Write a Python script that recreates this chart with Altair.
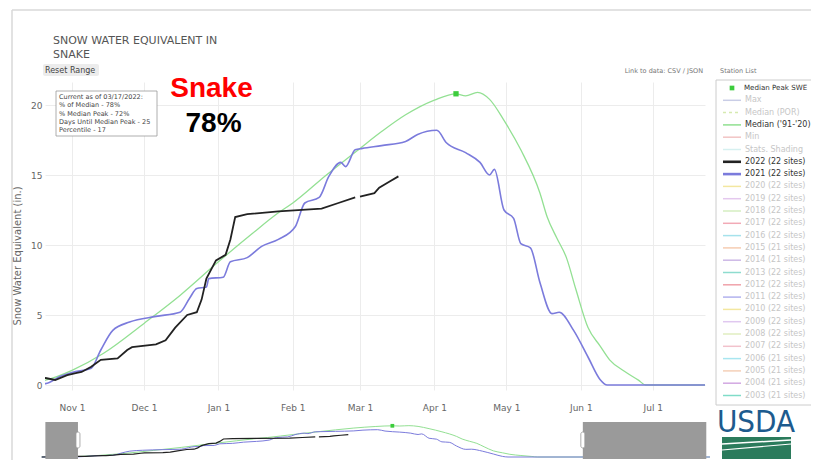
import altair as alt
import pandas as pd

FONT = "DejaVu Sans"
ARIAL = "Liberation Sans, Arial, sans-serif"

# ---------------- data ----------------
# Median ('91-'20), all dates shown on the 2021-22 water-year axis
median_dates = ["2021-10-01", "2021-10-10", "2021-10-21", "2021-11-01", "2021-11-14",
                "2021-12-01", "2021-12-16", "2022-01-01", "2022-01-15", "2022-01-26",
                "2022-02-01", "2022-02-15", "2022-03-01", "2022-03-10", "2022-03-20",
                "2022-04-01", "2022-04-10", "2022-04-14", "2022-04-19", "2022-04-24",
                "2022-04-30", "2022-05-07", "2022-05-15", "2022-05-18", "2022-05-22",
                "2022-05-26", "2022-05-30", "2022-06-04", "2022-06-09", "2022-06-13",
                "2022-06-19", "2022-06-25", "2022-06-28", "2022-09-30"]
median_swe = [0.0, 0.1, 0.35, 1.05, 2.25,
              4.4, 6.4, 8.8, 10.8, 12.3,
              13.0, 15.0, 16.9, 18.1, 19.3,
              20.35, 20.8, 20.65, 20.9, 20.4,
              18.9, 16.8, 13.7, 12.0, 10.5,
              9.1, 6.8, 4.1, 2.8, 1.8,
              1.0, 0.35, 0.0, 0.0]

# 2021 (22 sites), aligned to the same water-year axis
wy2021_dates = ["2021-10-01", "2021-10-15", "2021-10-21", "2021-10-27", "2021-11-01",
                "2021-11-09", "2021-11-13", "2021-11-18", "2021-11-25", "2021-12-06",
                "2021-12-16", "2021-12-20", "2021-12-23", "2021-12-27", "2021-12-28",
                "2022-01-03", "2022-01-06", "2022-01-13", "2022-01-19", "2022-01-26",
                "2022-02-02", "2022-02-06", "2022-02-12", "2022-02-16", "2022-02-21",
                "2022-02-23", "2022-02-27", "2022-03-02", "2022-03-10", "2022-03-20",
                "2022-03-25", "2022-04-02", "2022-04-06", "2022-04-14", "2022-04-20",
                "2022-04-24", "2022-04-26", "2022-04-30", "2022-05-04", "2022-05-07",
                "2022-05-11", "2022-05-15", "2022-05-20", "2022-05-23", "2022-05-29",
                "2022-06-04", "2022-06-09", "2022-06-12", "2022-09-30"]
wy2021_swe = [0.0, 0.05, 0.1, 0.6, 0.9,
              1.2, 2.5, 3.9, 4.5, 4.9,
              5.2, 6.2, 6.9, 7.0, 7.6,
              7.7, 8.8, 9.1, 9.9, 10.4,
              11.3, 13.0, 13.4, 14.9, 15.9,
              15.6, 16.8, 16.9, 17.1, 17.4,
              17.9, 18.2, 17.3, 16.6, 15.9,
              15.0, 15.4, 12.5, 11.9, 10.1,
              9.8, 7.3, 5.1, 5.2, 3.9,
              2.0, 0.4, 0.0, 0.0]

# 2022 (22 sites); segment number marks the small gap near Mar 1
wy2022_dates = ["2021-10-01", "2021-10-15", "2021-10-21", "2021-10-25", "2021-10-30",
                "2021-11-03", "2021-11-05", "2021-11-09", "2021-11-13", "2021-11-20",
                "2021-11-24", "2021-11-26", "2021-12-06", "2021-12-10", "2021-12-14",
                "2021-12-19", "2021-12-23", "2021-12-25", "2021-12-27", "2021-12-31",
                "2022-01-04", "2022-01-06", "2022-01-08", "2022-01-13", "2022-01-26",
                "2022-02-13", "2022-02-20", "2022-02-27",
                "2022-03-01", "2022-03-07", "2022-03-09", "2022-03-13", "2022-03-17"]
wy2022_swe = [0.0, 0.2, 0.5, 0.36, 0.7,
              0.86, 0.93, 1.3, 1.8, 1.9,
              2.5, 2.7, 2.9, 3.2, 4.1,
              5.0, 5.2, 6.1, 7.6, 8.9,
              9.3, 10.4, 12.0, 12.2, 12.4,
              12.6, 13.0, 13.4,
              13.45, 13.7, 14.1, 14.5, 14.9]
wy2022_segment = [1] * 28 + [2] * 5

peak_date = ["2022-04-10"]
peak_swe = [20.8]

month_ticks = [(2021, 11), (2021, 12), (2022, 1), (2022, 2), (2022, 3),
               (2022, 4), (2022, 5), (2022, 6), (2022, 7)]
y_ticks = [0, 5, 10, 15, 20]

# visible window of the main plot and of the navigator
view_start = (2021, 10, 20, 18)
view_end = (2022, 7, 22, 18)
nav_start = (2021, 10, 1, 0)
nav_end = (2022, 10, 1, 0)
shade_from = ["2021-10-03T00:00:00Z", "2022-07-22T18:00:00Z"]
shade_to = ["2021-10-20T18:00:00Z", "2022-09-28T00:00:00Z"]

legend_labels = ["Median Peak SWE", "Max", "Median (POR)", "Median ('91-'20)", "Min",
                 "Stats. Shading", "2022 (22 sites)", "2021 (22 sites)", "2020 (22 sites)",
                 "2019 (22 sites)", "2018 (22 sites)", "2017 (22 sites)", "2016 (22 sites)",
                 "2015 (21 sites)", "2014 (21 sites)", "2013 (22 sites)", "2012 (22 sites)",
                 "2011 (22 sites)", "2010 (22 sites)", "2009 (22 sites)", "2008 (22 sites)",
                 "2007 (22 sites)", "2006 (21 sites)", "2005 (21 sites)", "2004 (21 sites)",
                 "2003 (21 sites)"]
legend_active = [1, 0, 0, 1, 0, 0, 1, 1] + [0] * 18
legend_colors = ["#3ccc3c", "#c9cde6", "#d6eab0", "#90e090", "#f2c4c4", "#d6f0f0",
                 "#222222", "#7b7bdc", "#f3e7a0", "#e4c8ee", "#d4eec0", "#f2aab6",
                 "#a6e2ec", "#f6cdb2", "#cdb8e6", "#8edccf", "#f0a2aa", "#b2b2ee",
                 "#f3e7a0", "#e0c8f0", "#e0eec0", "#f2c2cc", "#a8e6f0", "#f5d0b8",
                 "#d2a8e2", "#80dcc8"]
legend_widths = [1.5, 1.5, 1.5, 1.5, 1.5, 1.5, 2.6, 2.6] + [1.5] * 18

info_lines = ["Current as of 03/17/2022:", "% of Median - 78%", "% Median Peak - 72%",
              "Days Until Median Peak - 25", "Percentile - 17"]

# ---------------- tables ----------------
df_med = pd.DataFrame({"date": median_dates, "swe": median_swe})
df_21 = pd.DataFrame({"date": wy2021_dates, "swe": wy2021_swe})
df_22 = pd.DataFrame({"date": wy2022_dates, "swe": wy2022_swe, "seg": wy2022_segment})
df_peak = pd.DataFrame({"date": peak_date, "swe": peak_swe})
df_shade = pd.DataFrame({"start": shade_from, "end": shade_to})
df_leg = pd.DataFrame({
    "row": list(range(len(legend_labels))),
    "label": legend_labels,
    "color": legend_colors,
    "w": legend_widths,
    "tcolor": ["#333333" if a else "#c6c6c6" for a in legend_active],
})
one = pd.DataFrame({"a": [0]})


def dt(t):
    return alt.DateTime(year=t[0], month=t[1], date=t[2], hours=t[3], utc=True)


# plot area: page (45, 82) .. (705, 390)
W, H = 660, 308
Y_DOMAIN = [-0.357, 21.643]

x_axis = alt.Axis(values=[alt.DateTime(year=y, month=m, date=1, utc=True) for y, m in month_ticks],
                  format="%b %-d", labelFont=FONT, labelFontSize=9, labelColor="#666666",
                  grid=True, gridColor="#ececec", ticks=False, tickSize=0, domain=False,
                  labelPadding=13, title=None)
y_axis = alt.Axis(values=y_ticks, labelFont=FONT, labelFontSize=9, labelColor="#666666",
                  grid=True, gridColor="#ececec", ticks=False, tickSize=0, domain=False,
                  labelPadding=3, title=None)


def xm(axis=None):
    return alt.X("date:T", scale=alt.Scale(type="utc", domain=[dt(view_start), dt(view_end)]),
                 axis=axis)


def ym(axis=None):
    return alt.Y("swe:Q", scale=alt.Scale(domain=Y_DOMAIN, nice=False, zero=False), axis=axis)


NAV_X_SCALE = dict(type="utc", domain=[dt(nav_start), dt(nav_end)], range=[-3.3, 666.8])
NAV_Y_SCALE = dict(domain=[0, 21], range=[375, 343.5], nice=False, zero=False)


def xn(field="date"):
    return alt.X(f"{field}:T", scale=alt.Scale(**NAV_X_SCALE), axis=None)


def yn():
    return alt.Y("swe:Q", scale=alt.Scale(**NAV_Y_SCALE), axis=None)


layers = []

# card frame
layers.append(alt.Chart(one).mark_rule(color="#d8d8d8", strokeWidth=1.5).encode(
    x=alt.value(-33), y=alt.value(-72), y2=alt.value(390)))
layers.append(alt.Chart(one).mark_rule(color="#d8d8d8", strokeWidth=1.5).encode(
    x=alt.value(-33), x2=alt.value(780), y=alt.value(-72)))

# main plot
layers.append(alt.Chart(df_med).mark_line(color="#93e093", strokeWidth=1.3, clip=True,
                                          interpolate="monotone").encode(
    x=xm(x_axis), y=ym(y_axis)))
layers.append(alt.Chart(df_21).mark_line(color="#7b7bdc", strokeWidth=1.6, clip=True,
                                         interpolate="monotone").encode(x=xm(), y=ym()))
layers.append(alt.Chart(df_22).mark_line(color="#222222", strokeWidth=1.8, clip=True).encode(
    x=xm(), y=ym(), detail="seg:N"))
layers.append(alt.Chart(df_peak).mark_point(shape="square", filled=True, size=28,
                                            color="#3ccc3c", opacity=1).encode(x=xm(), y=ym()))

# y-axis title
layers.append(alt.Chart(one).mark_text(text="Snow Water Equivalent (in.)", font=FONT, fontSize=10,
                                       color="#666666", angle=270, align="center",
                                       baseline="middle").encode(
    x=alt.value(-27), y=alt.value(174)))

# navigator
layers.append(alt.Chart(df_med).mark_line(color="#93e093", strokeWidth=1,
                                          interpolate="monotone").encode(x=xn(), y=yn()))
layers.append(alt.Chart(df_21).mark_line(color="#7b7bdc", strokeWidth=1,
                                         interpolate="monotone").encode(x=xn(), y=yn()))
layers.append(alt.Chart(df_22).mark_line(color="#222222", strokeWidth=1.2).encode(
    x=xn(), y=yn(), detail="seg:N"))
layers.append(alt.Chart(df_peak).mark_point(shape="square", filled=True, size=14,
                                            color="#3ccc3c", opacity=1).encode(x=xn(), y=yn()))
layers.append(alt.Chart(df_shade).mark_rect(color="#9a9a9a", opacity=1).encode(
    x=xn("start"), x2="end:T", y=alt.value(340), y2=alt.value(377)))
layers.append(alt.Chart(pd.DataFrame({"date": [shade_to[0], shade_from[1]]})).mark_tick(
    color="#ffffff", stroke="#999999", strokeWidth=0.8, thickness=4, size=16, opacity=1,
    cornerRadius=2).encode(x=xn(), y=alt.value(358)))

# title & controls
layers.append(alt.Chart(one).mark_text(text="SNOW WATER EQUIVALENT IN", font=FONT, fontSize=11,
                                       color="#555555", align="left", baseline="alphabetic").encode(
    x=alt.value(8), y=alt.value(-38)))
layers.append(alt.Chart(one).mark_text(text="SNAKE", font=FONT, fontSize=11,
                                       color="#555555", align="left", baseline="alphabetic").encode(
    x=alt.value(8), y=alt.value(-24)))
layers.append(alt.Chart(one).mark_rect(color="#ececec", cornerRadius=2).encode(
    x=alt.value(-2), x2=alt.value(54), y=alt.value(-18), y2=alt.value(-6)))
layers.append(alt.Chart(one).mark_text(text="Reset Range", font=FONT, fontSize=8,
                                       color="#444444", align="left", baseline="alphabetic").encode(
    x=alt.value(0), y=alt.value(-9)))
layers.append(alt.Chart(one).mark_text(text="Link to data: CSV / JSON", font=FONT, fontSize=6.5,
                                       color="#777777", align="right", baseline="alphabetic").encode(
    x=alt.value(658), y=alt.value(-9)))
layers.append(alt.Chart(one).mark_text(text="Station List", font=FONT, fontSize=6.5,
                                       color="#777777", align="left", baseline="alphabetic").encode(
    x=alt.value(675), y=alt.value(-9)))

# info box
layers.append(alt.Chart(one).mark_rect(fill="#ffffff", stroke="#999999", strokeWidth=0.8).encode(
    x=alt.value(11), x2=alt.value(112), y=alt.value(9), y2=alt.value(54)))
layers.append(alt.Chart(one).mark_text(text=info_lines, font=FONT, fontSize=6.5, lineHeight=8.3,
                                       color="#444444", align="left", baseline="alphabetic").encode(
    x=alt.value(14), y=alt.value(17)))

# big annotation
layers.append(alt.Chart(one).mark_text(text="Snake", font=ARIAL, fontSize=28, fontWeight="bold",
                                       color="#ff0000", align="center", baseline="alphabetic").encode(
    x=alt.value(166.5), y=alt.value(15)))
layers.append(alt.Chart(one).mark_text(text="78%", font=ARIAL, fontSize=28, fontWeight="bold",
                                       color="#000000", align="center", baseline="alphabetic").encode(
    x=alt.value(168.5), y=alt.value(50)))

# legend
LEG_Y = alt.Y("row:Q", scale=alt.Scale(domain=[0, 25], range=[6, 313.5]), axis=None)
layers.append(alt.Chart(one).mark_rect(fill="#ffffff", stroke="#cccccc", strokeWidth=1).encode(
    x=alt.value(671), x2=alt.value(800), y=alt.value(-2), y2=alt.value(323)))
layers.append(alt.Chart(df_leg[(df_leg.row > 0) & (df_leg.row != 2)]).mark_rule().encode(
    x=alt.value(678), x2=alt.value(696), y=LEG_Y,
    color=alt.Color("color:N", scale=None), strokeWidth=alt.StrokeWidth("w:Q", scale=None)))
layers.append(alt.Chart(df_leg[df_leg.row == 2]).mark_rule(strokeDash=[3, 3], strokeWidth=1.5).encode(
    x=alt.value(678), x2=alt.value(696), y=LEG_Y, color=alt.Color("color:N", scale=None)))
layers.append(alt.Chart(df_leg[df_leg.row == 0]).mark_point(shape="square", filled=True, size=22,
                                                           opacity=1).encode(
    x=alt.value(687), y=LEG_Y, color=alt.Color("color:N", scale=None)))
layers.append(alt.Chart(df_leg[df_leg.row == 0]).mark_text(font=FONT, fontSize=7.1, align="left",
                                                          baseline="middle").encode(
    x=alt.value(699), y=LEG_Y, text="label:N", color=alt.Color("tcolor:N", scale=None)))
layers.append(alt.Chart(df_leg[df_leg.row > 0]).mark_text(font=FONT, fontSize=8, align="left",
                                                         baseline="middle").encode(
    x=alt.value(700), y=LEG_Y, text="label:N", color=alt.Color("tcolor:N", scale=None)))

# USDA logo
layers.append(alt.Chart(one).mark_text(text="USDA", font="Liberation Sans Narrow, DejaVu Sans Condensed, sans-serif",
                                       fontSize=31, color="#1d5b8e", align="center",
                                       baseline="alphabetic").encode(
    x=alt.value(711), y=alt.value(350)))
layers.append(alt.Chart(one).mark_rect(color="#2b7b5c").encode(
    x=alt.value(677), x2=alt.value(746), y=alt.value(355), y2=alt.value(377)))
layers.append(alt.Chart(one).mark_rule(color="#ffffff", strokeWidth=1.5).encode(
    x=alt.value(677), x2=alt.value(746), y=alt.value(362), y2=alt.value(358)))
layers.append(alt.Chart(one).mark_rule(color="#ffffff", strokeWidth=1.2).encode(
    x=alt.value(677), x2=alt.value(746), y=alt.value(368), y2=alt.value(362)))

chart = alt.layer(*layers).resolve_scale(x="independent", y="independent").properties(
    width=W, height=H,
    padding={"left": 37, "top": 74, "right": 106, "bottom": 70},
    autosize=alt.AutoSizeParams(type="none"),
    background="#ffffff",
).configure_view(stroke=None)

chart.save("out.html", embed_options={"renderer": "svg", "actions": False})
